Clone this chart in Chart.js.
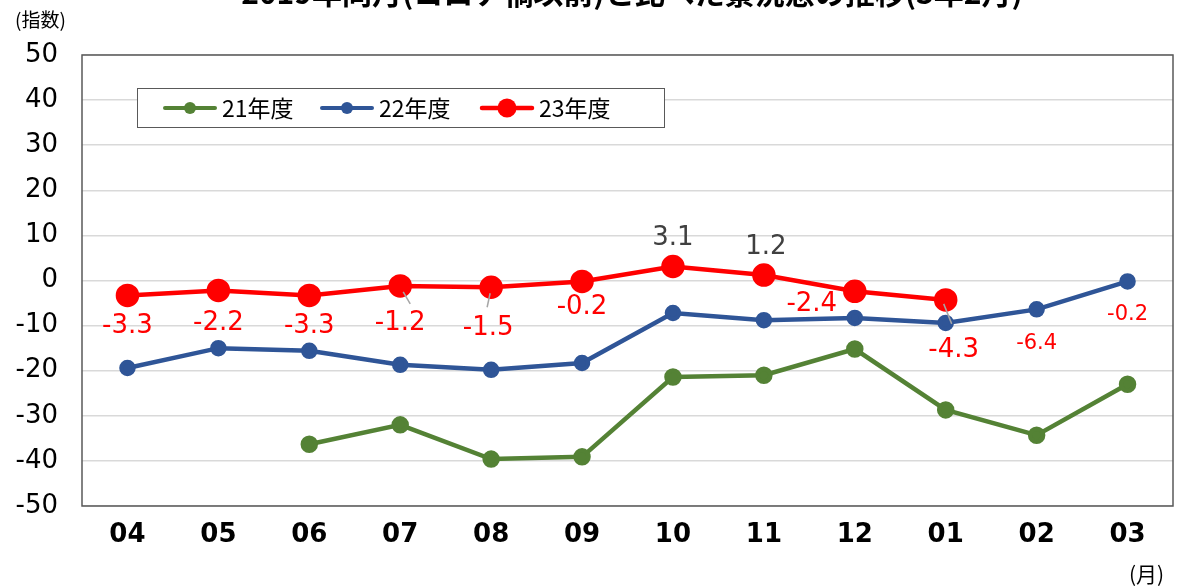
<!DOCTYPE html>
<html><head><meta charset="utf-8">
<script src="https://cdn.jsdelivr.net/npm/chart.js@4.4.0/dist/chart.umd.min.js"></script>
<style>html,body{margin:0;padding:0;background:#fff}#wrap{width:1179px;height:588px;position:relative}</style>
</head><body><div id="wrap"><canvas id="c" width="1179" height="588"></canvas></div>
<script>
const categories = ['04','05','06','07','08','09','10','11','12','01','02','03'];
const fy21 = [null, null, -36.3, -32.0, -39.6, -39.1, -21.4, -21.0, -15.2, -28.7, -34.3, -23.0];
const fy22 = [-19.4, -15.0, -15.6, -18.7, -19.8, -18.3, -7.2, -8.8, -8.3, -9.4, -6.4, -0.2];
const fy23 = [-3.3, -2.2, -3.3, -1.2, -1.5, -0.2, 3.1, 1.2, -2.4, -4.3, null, null];
const seriesNames = ['21年度','22年度','23年度'];
const yTicks = [50,40,30,20,10,0,-10,-20,-30,-40,-50];
const titleText = '2019年同月(コロナ禍以前)と比べた景況感の推移(3年2月)';

const FONT = '"DejaVu Sans", "Noto Sans CJK JP", sans-serif';
const CJK = '"Noto Sans CJK JP", "DejaVu Sans", sans-serif';
const GREEN = '#548235', BLUE = '#2F5597', RED = '#FF0000';

// label styles: [datasetIndex, index, dx, dy, color, size, leader]
const labelSpecs = [
  [2,0,0,31,RED,26,null],[2,1,0,33,RED,26,null],[2,2,0,31,RED,26,null],
  [2,3,0,37,RED,26,[3,6,10,18]],[2,4,-3,41,RED,26,[-1,6,-4,20]],[2,5,0,26,RED,26,null],
  [2,6,0,-28,'#404040',26,null],[2,7,2,-28,'#404040',26,null],
  [2,8,-43,13,RED,26,null],[2,9,8,50,RED,26,[-2,4,6,24]],
  [1,10,0,34,RED,21,null],[1,11,0,33,RED,21,null]
];

const extras = {
  id:'extras',
  afterDatasetsDraw(chart){
    const ctx = chart.ctx, xs = chart.scales.x, ys = chart.scales.y;
    const sets = [fy21, fy22, fy23];
    ctx.save();
    labelSpecs.forEach(s=>{
      const v = sets[s[0]][s[1]];
      const px = xs.getPixelForValue(s[1]), py = ys.getPixelForValue(v);
      if (s[6]) {
        ctx.strokeStyle = '#a6a6a6'; ctx.lineWidth = 1.5;
        ctx.beginPath(); ctx.moveTo(px+s[6][0], py+s[6][1]); ctx.lineTo(px+s[6][2], py+s[6][3]); ctx.stroke();
      }
      ctx.fillStyle = s[4]; ctx.font = s[5]+'px '+FONT;
      ctx.textAlign='center'; ctx.textBaseline='middle';
      ctx.fillText(v.toFixed(1), px+s[2], py+s[3]);
    });
    ctx.restore();
  },
  afterDraw(chart){
    const ctx = chart.ctx; const a = chart.chartArea;
    ctx.save();
    ctx.strokeStyle='#595959'; ctx.lineWidth=1.5;
    ctx.strokeRect(a.left, a.top, a.right-a.left, a.bottom-a.top);
    ctx.fillStyle='#000'; ctx.font='bold 30px '+CJK; ctx.textAlign='center'; ctx.textBaseline='alphabetic';
    ctx.fillText(titleText, 632, 4);
    ctx.font='19px '+CJK; ctx.textAlign='left'; ctx.textBaseline='middle';
    ctx.fillText('(指数)', 15, 20);
    ctx.font='21px '+CJK;
    ctx.fillText('(月)', 1129, 574);
    ctx.fillStyle='#fff'; ctx.fillRect(137,88,527,39);
    ctx.strokeStyle='#595959'; ctx.lineWidth=1; ctx.strokeRect(137.5,88.5,527,39);
    const items = [[165,GREEN,6,4],[322,BLUE,6,4],[482,RED,9.5,4.5]];
    items.forEach((it,i)=>{
      const y=108;
      ctx.strokeStyle=it[1]; ctx.lineWidth=it[3]; ctx.lineCap='round';
      ctx.beginPath(); ctx.moveTo(it[0],y); ctx.lineTo(it[0]+50,y); ctx.stroke();
      ctx.fillStyle=it[1]; ctx.beginPath(); ctx.arc(it[0]+25,y,it[2],0,Math.PI*2); ctx.fill();
      ctx.fillStyle='#000'; ctx.font='23px '+CJK; ctx.textAlign='left'; ctx.textBaseline='middle';
      ctx.fillText(seriesNames[i], it[0]+57, y);
    });
    ctx.restore();
  }
};

new Chart(document.getElementById('c'), {
  type:'line',
  data:{ labels:categories, datasets:[
    {label:seriesNames[0], data:fy21, borderColor:GREEN, backgroundColor:GREEN, borderWidth:4.5, pointRadius:6.5, pointHoverRadius:6.5, spanGaps:false},
    {label:seriesNames[1], data:fy22, borderColor:BLUE, backgroundColor:BLUE, borderWidth:4.5, pointRadius:6, pointHoverRadius:6},
    {label:seriesNames[2], data:fy23, borderColor:RED, backgroundColor:RED, borderWidth:4.5, pointRadius:9.5, pointHoverRadius:9.5}
  ]},
  options:{
    responsive:false, animation:false, devicePixelRatio:1,
    layout:{autoPadding:false, padding:{top:55, right:6, left:0, bottom:0}},
    plugins:{legend:{display:false}, tooltip:{enabled:false}, title:{display:false}},
    scales:{
      x:{ offset:true, grid:{display:false, drawTicks:false}, border:{display:false},
          ticks:{color:'#000', font:{family:FONT, size:26, weight:'bold'}, padding:14, maxRotation:0},
          afterFit(s){ s.height = 82; s.paddingRight = 0; s.paddingLeft = 0; } },
      y:{ min:-50, max:50, afterBuildTicks(s){ s.ticks = yTicks.map(v=>({value:v})); },
          grid:{color:'#d9d9d9', lineWidth:1.5, drawTicks:false}, border:{display:false},
          ticks:{color:'#000', font:{family:FONT, size:26}, padding:24},
          afterFit(s){ s.width = 82; } }
    }
  },
  plugins:[extras]
});
</script></body></html>
